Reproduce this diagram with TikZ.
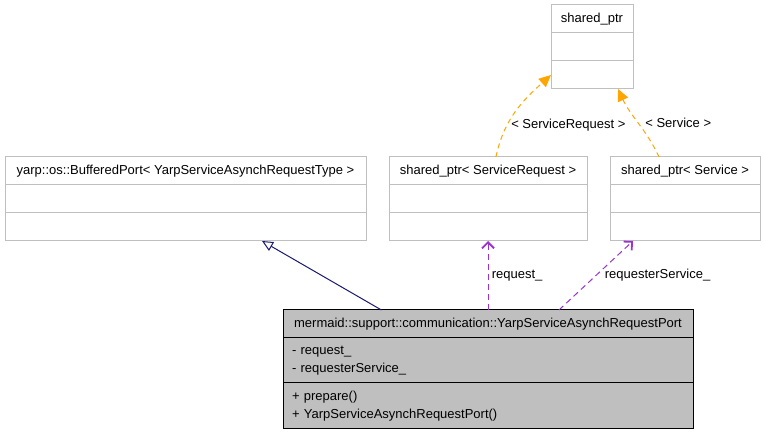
\documentclass[tikz,border=0pt]{standalone}
\usepackage{fontspec}
\setmainfont{Liberation Sans}
\usepackage{tikz}
\usetikzlibrary{positioning}
\usetikzlibrary{arrows.meta}
\usetikzlibrary{calc}
\definecolor{grey75}{HTML}{BFBFBF}
\definecolor{navyline}{HTML}{191970}
\definecolor{orchid}{HTML}{9A32CD}
\definecolor{tmplorange}{HTML}{FFA500}

\begin{document}
\begin{tikzpicture}[x=1pt, y=1pt,
		font=\fontsize{13}{17.6}\selectfont,
		cls/.style = {draw=grey75, fill=white, line width=1pt,
			outer sep=0pt, inner sep=0pt, minimum height=28pt},
		focus/.style = {draw=black, fill=grey75, line width=1pt,
			outer sep=0pt, inner ysep=0pt, inner xsep=9pt},
		lbl/.style = {text=black},
		inherit/.style = {navyline, line width=1pt,
			-{Triangle[open, length=11pt, width=10pt]}},
		member/.style = {orchid, line width=1pt, dash pattern=on 6pt off 4pt,
			-{Straight Barb[length=6pt, width=12pt, line width=1.8pt]}},
		tmpl/.style = {tmplorange, line width=1pt, dash pattern=on 5pt off 4pt,
			-{Triangle[length=12pt, width=11pt]}}]
		
		\useasboundingbox (0,0) rectangle (765,435);
		
		% shared_ptr
		\node[cls, minimum width=82pt] (sp) at (592,416) {shared\_ptr};
		\node[cls, minimum width=82pt, below=0pt of sp] (spa) {};
		\node[cls, minimum width=82pt, below=0pt of spa] (spb) {};
		
		% BufferedPort
		\node[cls, minimum width=361pt] (bp) at (185.5,264) {yarp::os::BufferedPort< YarpServiceAsynchRequestType >};
		\node[cls, minimum width=361pt, below=0pt of bp] (bpa) {};
		\node[cls, minimum width=361pt, below=0pt of bpa] (bpb) {};
		
		% shared_ptr< ServiceRequest >
		\node[cls, minimum width=198pt] (sr) at (488,264) {shared\_ptr< ServiceRequest >};
		\node[cls, minimum width=198pt, below=0pt of sr] (sra) {};
		\node[cls, minimum width=198pt, below=0pt of sra] (srb) {};
		
		% shared_ptr< Service >
		\node[cls, minimum width=150pt] (sv) at (685,264) {shared\_ptr< Service >};
		\node[cls, minimum width=150pt, below=0pt of sv] (sva) {};
		\node[cls, minimum width=150pt, below=0pt of sva] (svb) {};
		
		% YarpServiceAsynchRequestPort
		\node[focus, minimum width=410pt, minimum height=28pt] (main) at (488,111)
			{mermaid::support::communication::YarpServiceAsynchRequestPort};
		\node[focus, below=0pt of main, minimum height=45pt, text width=392pt, align=left] (maina)
			{- request\_\\- requesterService\_};
		\node[focus, below=0pt of maina, minimum height=46pt, text width=392pt, align=left] (mainb)
			{+ prepare()\\+ YarpServiceAsynchRequestPort()};
		
		% Inheritance
		\draw[inherit] ($(main.north west)!0.24!(main.north east)$)
			-- ($(bpb.south west)!0.712!(bpb.south east)$);
		
		% Members
		\draw[member] (main.north) -- node[lbl, right=0pt] {request\_} (srb.south);
		\draw[member] ($(main.north west)!0.673!(main.north east)$)
			-- node[lbl, pos=0.5, anchor=west, xshift=5pt] {requesterService\_}
			($(svb.south west)!0.153!(svb.south east)$);
		
		% Template arguments
		\draw[tmpl] ($(sr.north west)!0.54!(sr.north east)$) to[out=78, in=222]
			node[lbl, pos=0.33, anchor=west, inner sep=1.5pt, xshift=2pt] {< ServiceRequest >} (spb.west);
		\draw[tmpl] ($(sv.north west)!0.327!(sv.north east)$) to[out=115, in=295]
			node[lbl, pos=0.5, anchor=west, xshift=3pt] {< Service >}
			($(spb.south west)!0.817!(spb.south east)$);
	\end{tikzpicture}
\end{document}
